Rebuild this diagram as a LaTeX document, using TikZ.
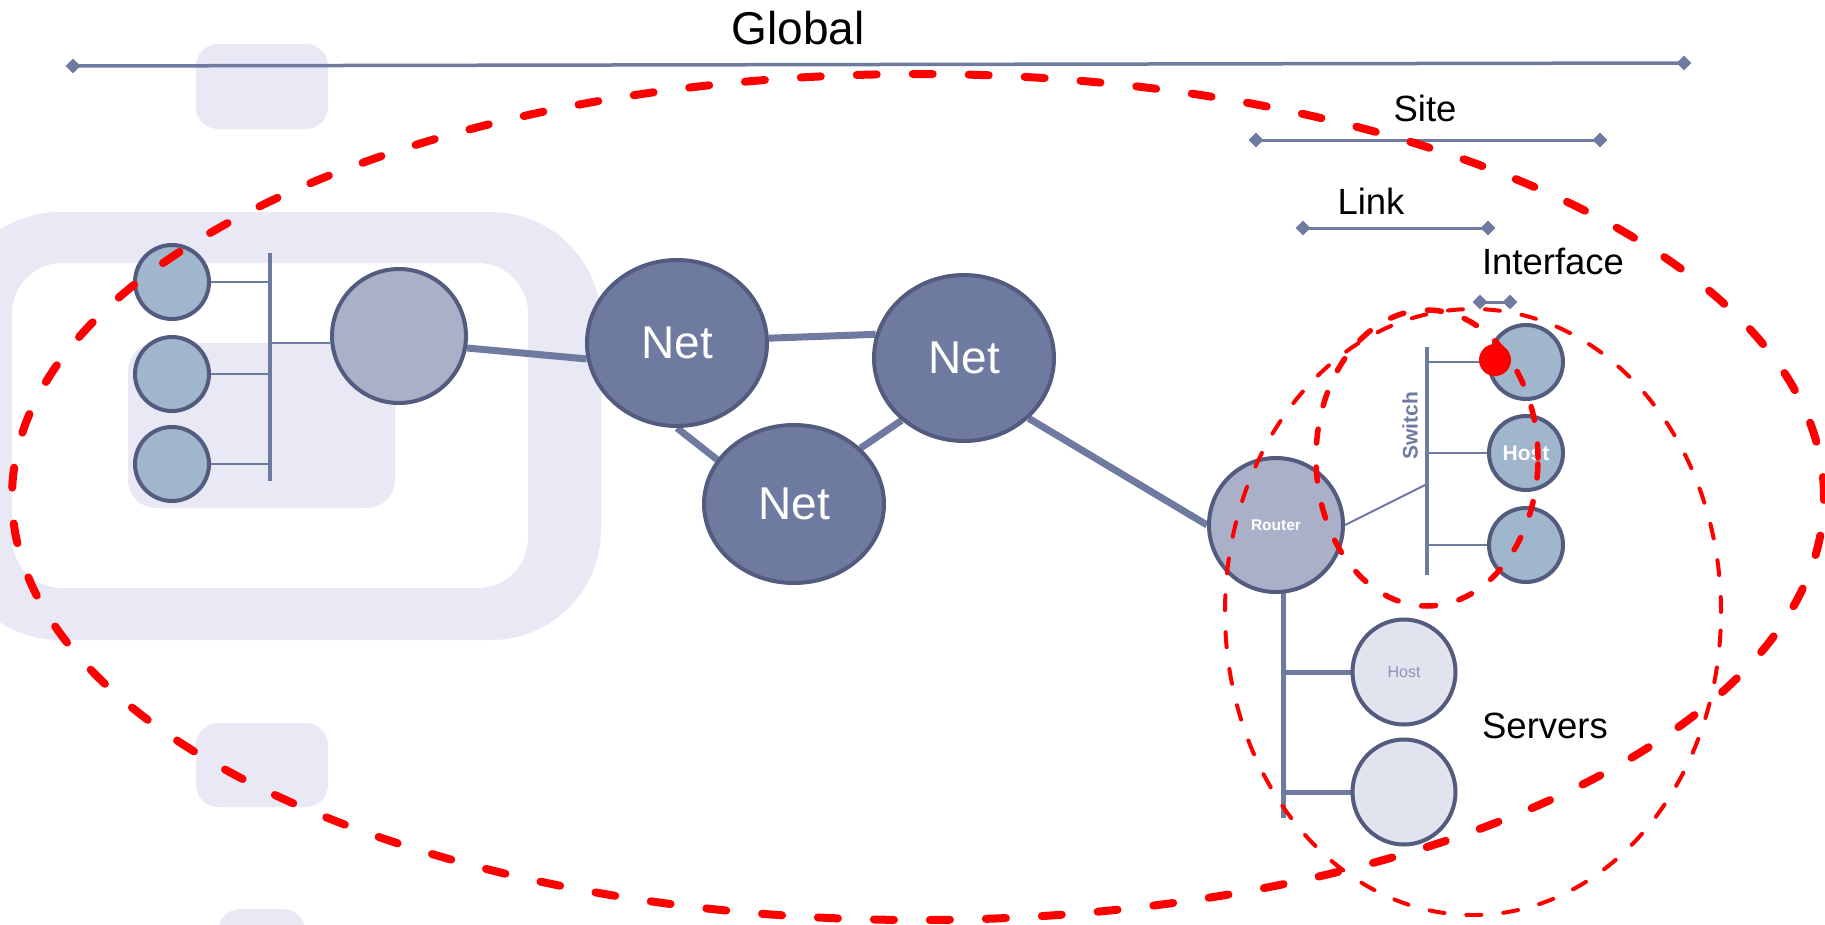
\documentclass[tikz,border=0pt]{standalone}
\usepackage{fontspec}
\setmainfont{Liberation Sans}
\usetikzlibrary{shapes.geometric}
\pgfdeclarelayer{bg}
\pgfsetlayers{bg,main}
\definecolor{slate}{HTML}{6F7AA0}
\definecolor{rim}{HTML}{535C7E}
\definecolor{hostfill}{HTML}{A0B6CC}
\definecolor{rtfill}{HTML}{AAB0C8}
\definecolor{srvfill}{HTML}{E1E4EE}
\definecolor{pale}{HTML}{E8E9F5}
\definecolor{srvtext}{HTML}{8A93B8}
\definecolor{dashred}{HTML}{FF0000}
\begin{document}
\begin{tikzpicture}[x=1pt,y=-1pt,
  netnode/.style={ellipse, draw=rim, line width=4pt, fill=slate, inner sep=0pt, minimum width=180pt, minimum height=166pt, text=white, font=\fontsize{46}{50}\selectfont},
  rtnode/.style={circle, draw=rim, line width=4pt, fill=rtfill, inner sep=0pt, minimum size=134pt},
  hostnode/.style={circle, draw=rim, line width=4pt, fill=hostfill, inner sep=0pt, minimum size=74pt},
  srvnode/.style={ellipse, draw=rim, line width=4pt, fill=srvfill, inner sep=0pt, minimum width=103pt, minimum height=105pt},
  dia/.style={diamond, fill=slate, inner sep=0pt, minimum width=15pt, minimum height=15pt},
  scaleline/.style={draw=slate, line width=3pt},
  lbl/.style={inner sep=0pt, font=\fontsize{36.5}{40}\selectfont},
  netlink/.style={draw=slate, line width=7pt},
  busline/.style={draw=slate, line width=4pt},
  stubline/.style={draw=slate, line width=2.5pt},
  thinlink/.style={draw=slate, line width=2pt},
  srvline/.style={draw=slate, line width=5pt},
  globaldash/.style={draw=dashred, line width=8pt, line cap=round, dash pattern=on 20pt off 36pt},
  sitedash/.style={draw=dashred, line width=4pt, line cap=round, dash pattern=on 15pt off 22pt},
  linkdash/.style={draw=dashred, line width=5.5pt, line cap=round, dash pattern=on 14pt off 24pt}
]
\useasboundingbox (0,0) rectangle (1825,924);

% pale background shapes
\begin{pgfonlayer}{bg}
\fill[pale, even odd rule] [rounded corners=110pt] (-50,212) rectangle (601,640) [rounded corners=50pt] (12,263) rectangle (528,588);
\fill[pale, rounded corners=28pt] (128,343) rectangle (395,508);
\fill[pale, rounded corners=22pt] (196,44) rectangle (328,129);
\fill[pale, rounded corners=22pt] (196,723) rectangle (328,807);
\fill[pale, rounded corners=22pt] (218,909) rectangle (305,960);
\end{pgfonlayer}

% scale bars
\node[dia] (g1) at (73,66) {};
\node[dia] (g2) at (1684,63) {};
\draw[scaleline, line width=3.5pt] (g1.center) -- (g2.center);
\node[dia] (s1) at (1256,140) {};
\node[dia] (s2) at (1600,140) {};
\draw[scaleline] (s1.center) -- (s2.center);
\node[dia] (l1) at (1303,228) {};
\node[dia] (l2) at (1488,228) {};
\draw[scaleline] (l1.center) -- (l2.center);
\node[dia] (i1) at (1480,302) {};
\node[dia] (i2) at (1510,302) {};
\draw[scaleline] (i1.center) -- (i2.center);

\node[lbl, font=\fontsize{46}{50}\selectfont] (tglobal) at (798,28) {Global};
\node[lbl] (tsite) at (1425,108) {Site};
\node[lbl] (tlink) at (1371,201) {Link};
\node[lbl] (tif) at (1553,261) {Interface};
\node[lbl] (tsrv) at (1545,726) {Servers};

% left site
\node[hostnode] (hl1) at (172,282) {};
\node[hostnode] (hl2) at (172,374) {};
\node[hostnode] (hl3) at (172,464) {};
\coordinate (lbt) at (270,253);
\coordinate (lbb) at (270,481);
\node[rtnode] (lr) at (399,336) {};

% nets
\node[netnode] (n1) at (677,343) {Net};
\node[netnode] (n2) at (964,358) {Net};
\node[netnode, minimum height=158pt] (n3) at (794,504) {Net};

% router
\node[rtnode, text=white, font=\bfseries\fontsize{15.5}{18}\selectfont] (rt) at (1276,525) {Router};

% switch hosts
\coordinate (sbt) at (1427,347);
\coordinate (sbb) at (1427,575);
\coordinate (swj) at (1427,484);
\node[hostnode] (hs1) at (1526,362) {};
\node[hostnode, text=white, font=\bfseries\fontsize{21}{24}\selectfont] (hs2) at (1526,453) {Host};
\node[hostnode] (hs3) at (1526,545) {};
\node[rotate=90, inner sep=0pt, text=slate, font=\bfseries\fontsize{21}{24}\selectfont] (tsw) at (1410,426) {Switch};

% servers
\coordinate (svb) at (1283,818);
\node[srvnode, text=srvtext, font=\fontsize{16}{18}\selectfont] (sv1) at (1404,672) {Host};
\node[srvnode] (sv2) at (1404,792) {};

% connectors
\begin{pgfonlayer}{bg}
\draw[busline] (lbt) -- (lbb);
\draw[stubline] (hl1.east) -- (hl1.east -| lbt);
\draw[stubline] (hl2.east) -- (hl2.east -| lbt);
\draw[stubline] (hl3.east) -- (hl3.east -| lbt);
\draw[stubline] (lr.186) -- (lr.186 -| lbt);
\draw[netlink] (lr.-10) -- (n1.190);
\draw[netlink] (n1.3) -- (n2.165);
\draw[netlink] (n1.south) -- (n3.150);
\draw[netlink] (n3.40) -- (n2.225);
\draw[netlink] (n2.-43) -- (rt.west);
\draw[busline] (sbt) -- (sbb);
\draw[thinlink] (rt.east) -- (swj);
\draw[stubline] (hs1.west) -- (hs1.west -| sbt);
\draw[stubline] (hs2.west) -- (hs2.west -| sbt);
\draw[stubline] (hs3.west) -- (hs3.west -| sbt);
\draw[srvline] (svb |- rt.center) -- (svb);
\draw[srvline] (sv1.west) -- (sv1.west -| svb);
\draw[srvline] (sv2.west) -- (sv2.west -| svb);
\end{pgfonlayer}

% red scopes
\draw[globaldash] (918,497) ellipse [x radius=906pt, y radius=423pt];
\draw[sitedash] (1473,612) ellipse [x radius=248pt, y radius=303pt];
\draw[linkdash] (1427,458) ellipse [x radius=111pt, y radius=148pt];
\node[circle, fill=dashred, inner sep=0pt, minimum size=32pt] (ifdot) at (1495,360) {};
\end{tikzpicture}
\end{document}
